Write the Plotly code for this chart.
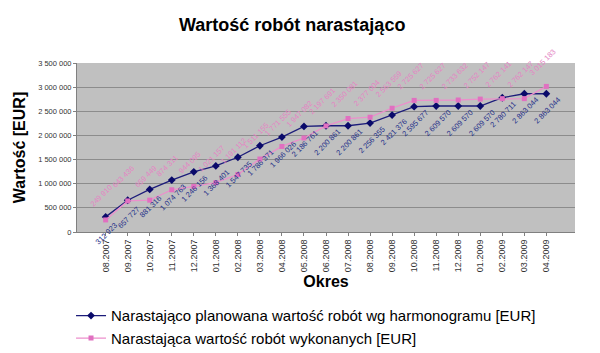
import plotly.graph_objects as go

months = ["08.2007", "09.2007", "10.2007", "11.2007", "12.2007", "01.2008", "02.2008",
          "03.2008", "04.2008", "05.2008", "06.2008", "07.2008", "08.2008", "09.2008",
          "10.2008", "11.2008", "12.2008", "01.2009", "02.2009", "03.2009", "04.2009"]

planned = [312923, 657727, 881316, 1074763, 1246156, 1368401, 1547735,
           1786371, 1966026, 2186761, 2200861, 2200861, 2256355, 2421376,
           2595677, 2609570, 2609570, 2609570, 2780711, 2863044, 2863044]

executed = [249910, 643436, 659449, 874311, 944095, 1021157, 1191112,
            1511155, 1771555, 1947082, 2197691, 2350081, 2377004, 2563559,
            2725627, 2725627, 2733632, 2752147, 2762141, 2762147, 3015183]

y_ticks = [0, 500000, 1000000, 1500000, 2000000, 2500000, 3000000, 3500000]

name_planned = "Narastająco planowana wartość robót wg harmonogramu [EUR]"
name_executed = "Narastająca wartość robót wykonanych [EUR]"


def fmt(v):
    return f"{v:,}".replace(",", " ")


FONT = "Liberation Sans, Arial, sans-serif"
BLUE = "#1c1c7a"
PINK = "#ec8fcc"

fig = go.Figure()
fig.add_trace(go.Scatter(
    x=months, y=planned, name=name_planned, mode="lines+markers",
    line=dict(color=BLUE, width=1.3),
    marker=dict(symbol="diamond", size=6, color="#0a0a6a"),
))
fig.add_trace(go.Scatter(
    x=months, y=executed, name=name_executed, mode="lines+markers",
    line=dict(color=PINK, width=1.3),
    marker=dict(symbol="square", size=5, color="#e070c0"),
))

annotations = []
for i, v in enumerate(planned):
    annotations.append(dict(
        x=i, y=v, xref="x", yref="y", text=fmt(v), showarrow=False, textangle=-45,
        xanchor="center", yanchor="middle", yshift=-17, xshift=1,
        font=dict(family=FONT, size=7.5, color="#25308a"),
    ))
for i, v in enumerate(executed):
    annotations.append(dict(
        x=i, y=v, xref="x", yref="y", text=fmt(v), showarrow=False, textangle=-45,
        xanchor="center", yanchor="middle", yshift=24, xshift=-4,
        font=dict(family=FONT, size=7.5, color="#e485c4"),
    ))

fig.update_layout(
    width=600, height=353,
    margin=dict(l=77, r=25, t=63, b=121, autoexpand=False),
    paper_bgcolor="white",
    plot_bgcolor="#c0c0c0",
    separators=", ",
    font=dict(family=FONT, color="#000"),
    title=dict(text="<b>Wartość robót narastająco</b>", x=0.487, xanchor="center",
               y=0.93, yanchor="middle", font=dict(size=18, family=FONT, color="#000")),
    showlegend=True,
    legend=dict(x=-0.012, y=0.152, xref="paper", yref="container", xanchor="left", yanchor="top",
                font=dict(size=15, family=FONT, color="#000"),
                bgcolor="rgba(0,0,0,0)", tracegroupgap=0, itemwidth=30),
    annotations=annotations,
)

fig.update_xaxes(
    type="category", tickangle=-90, tickfont=dict(size=9, color="#333", family=FONT),
    showgrid=False, showline=True, linecolor="#808080", linewidth=1,
    ticks="outside", ticklen=3, tickcolor="#808080", automargin=False,
    title=dict(text="<b>Okres</b>", font=dict(size=16, family=FONT), standoff=4),
)
fig.update_yaxes(
    range=[0, 3500000], tickvals=y_ticks, ticktext=[fmt(v) for v in y_ticks],
    tickfont=dict(size=7.5, color="#333", family=FONT),
    showgrid=True, gridcolor="#8c8c8c", gridwidth=1,
    showline=True, linecolor="#808080", linewidth=1,
    ticks="outside", ticklen=3, tickcolor="#808080", zeroline=False, automargin=False,
    title=dict(text="<b>Wartość [EUR]</b>", font=dict(size=16, family=FONT), standoff=8),
)

fig.write_html("out.html")
